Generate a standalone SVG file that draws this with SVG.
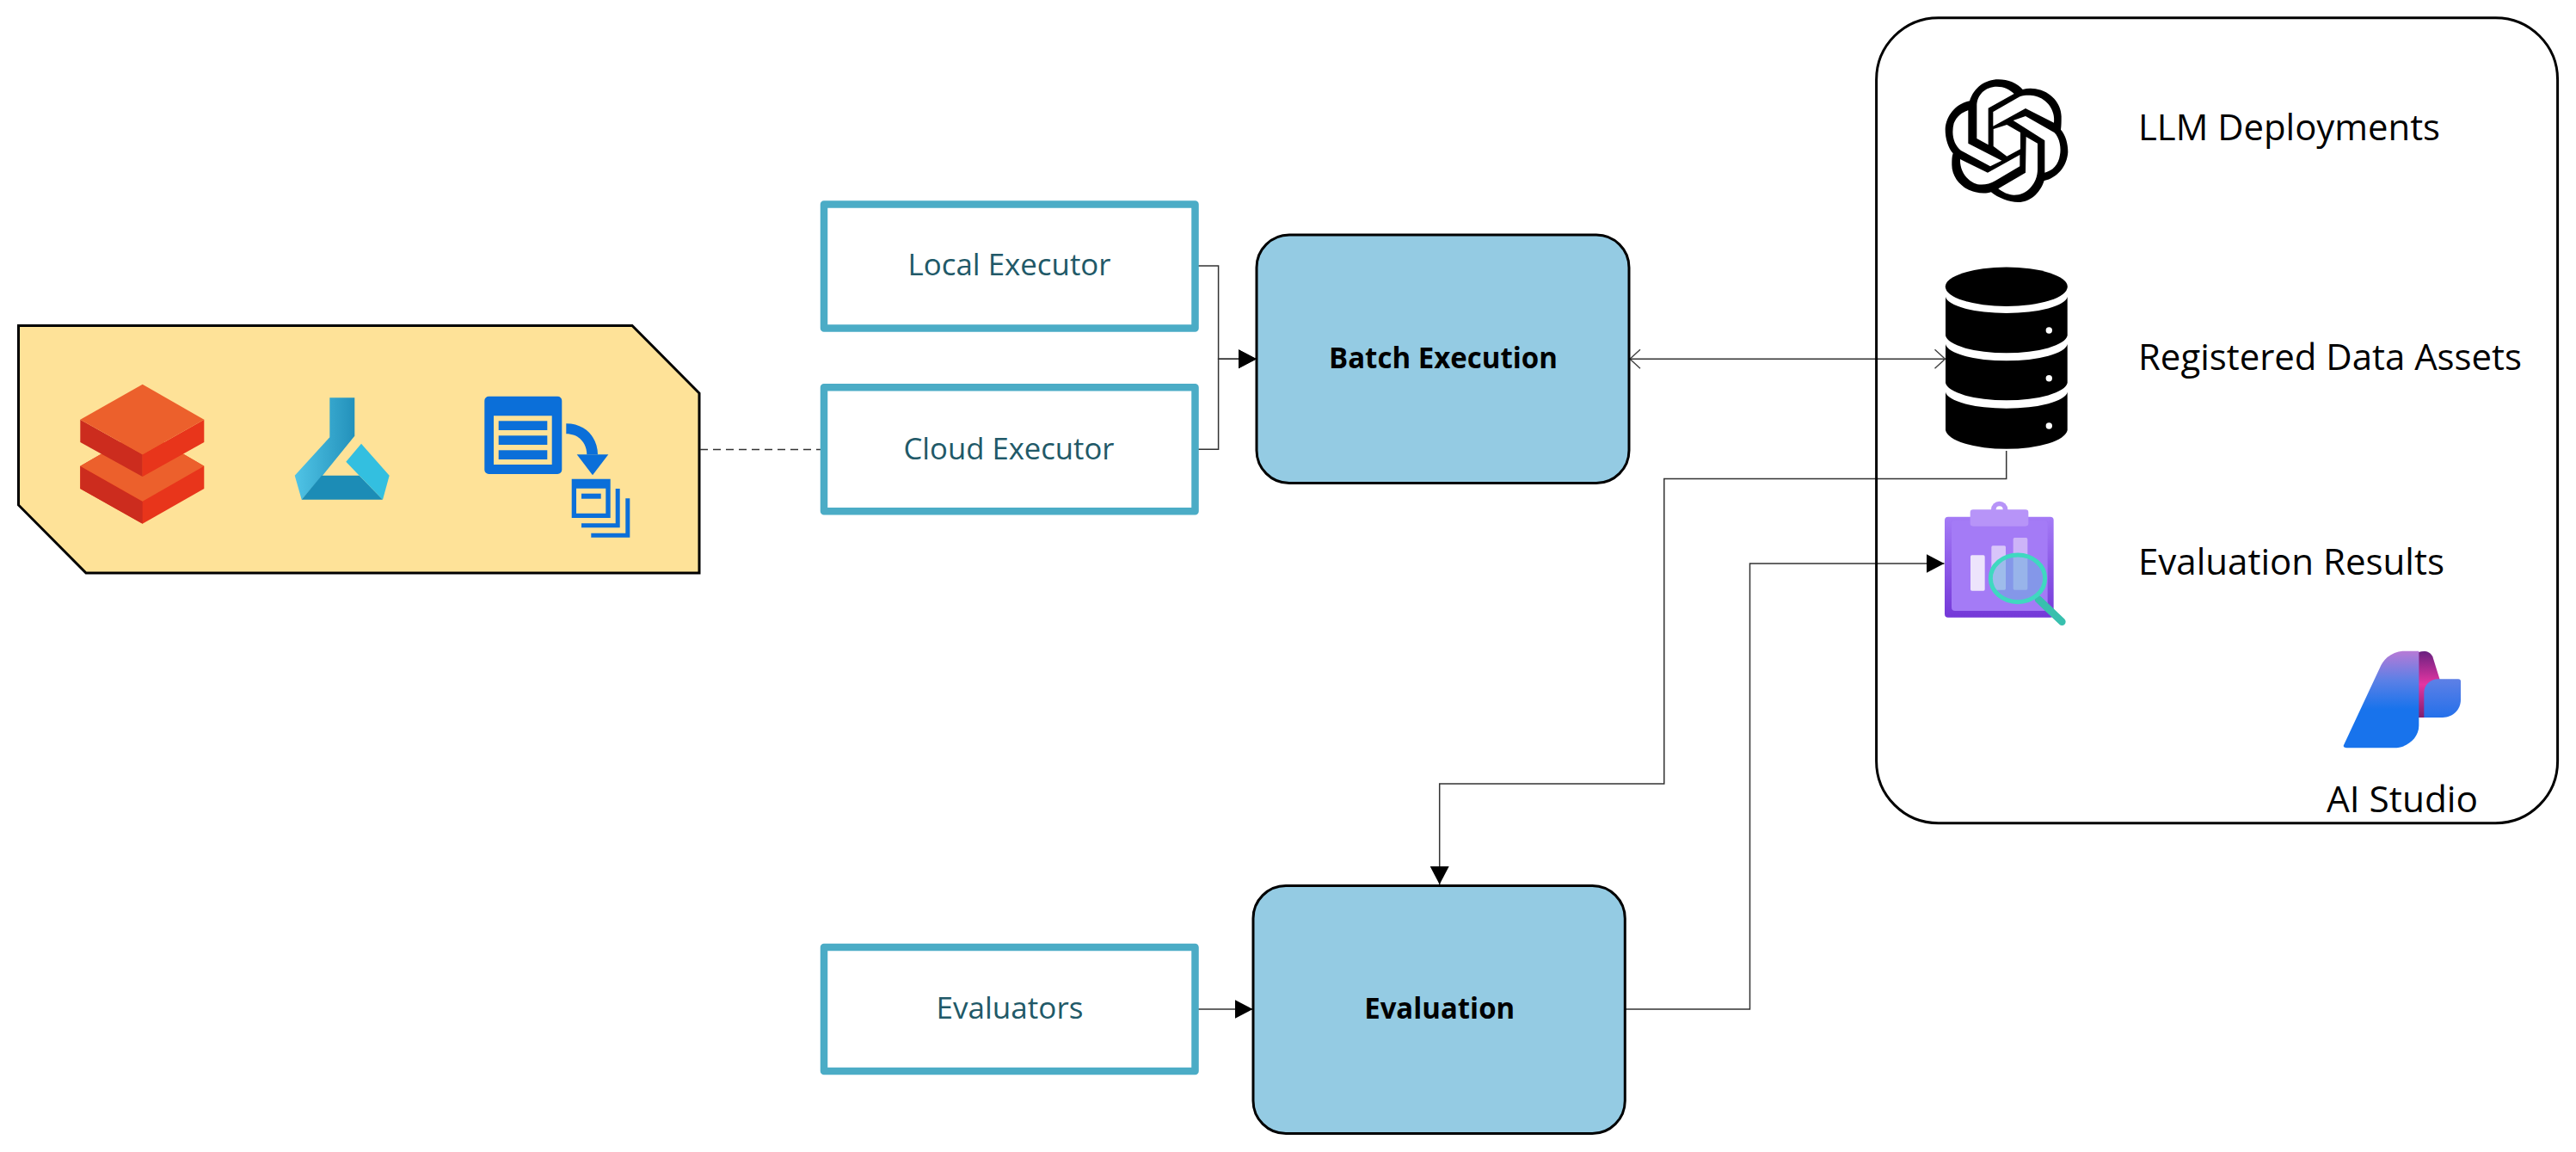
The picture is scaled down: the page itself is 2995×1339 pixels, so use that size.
<svg xmlns="http://www.w3.org/2000/svg" width="2995" height="1339" viewBox="0 0 2995 1339">
<style>
text{font-family:"Open Sans","Noto Sans","Liberation Sans",sans-serif}
.ex{fill:#fff;stroke:#4BACC6;stroke-width:8.5;stroke-linejoin:round}
.ext{font-size:34px;fill:#215968;text-anchor:middle}
.pr{fill:#94CBE3;stroke:#000;stroke-width:3}
.prt{font-size:34px;font-weight:700;fill:#000;text-anchor:middle}
.lbl{font-size:42px;fill:#000}
.c{fill:none;stroke:#333;stroke-width:1.5}
.blue{fill:#0B6FD9}
</style>
<defs>
<marker id="solid" markerUnits="userSpaceOnUse" markerWidth="22" markerHeight="24" refX="21" refY="11" orient="auto" viewBox="0 0 22 24"><path d="M0 0L21 11L0 22Z" fill="#000"/></marker>
<marker id="open" markerUnits="userSpaceOnUse" markerWidth="14" markerHeight="26" refX="13" refY="12" orient="auto-start-reverse" viewBox="0 0 14 26"><path d="M1 1L13 12L1 23" fill="none" stroke="#404040" stroke-width="1.4"/></marker>
<linearGradient id="flask" x1="0" y1="0" x2="1" y2="0"><stop offset="0" stop-color="#50C4E6"/><stop offset="1" stop-color="#2391BB"/></linearGradient>
<linearGradient id="board" x1="0" y1="0" x2="0" y2="1"><stop offset="0" stop-color="#A47BF6"/><stop offset="1" stop-color="#7438D8"/></linearGradient>
<linearGradient id="aiMain" x1="0" y1="0" x2="0" y2="1"><stop offset="0" stop-color="#B87AD6"/><stop offset="0.3" stop-color="#5C80E6"/><stop offset="0.6" stop-color="#1873EC"/></linearGradient>
<linearGradient id="aiFold" x1="0" y1="0" x2="0" y2="1"><stop offset="0" stop-color="#6A2180"/><stop offset="0.5" stop-color="#E535A2"/><stop offset="1" stop-color="#7E1F6E"/></linearGradient>
<linearGradient id="aiLeaf" x1="0" y1="0" x2="0" y2="1"><stop offset="0" stop-color="#5E80E6"/><stop offset="1" stop-color="#2470EA"/></linearGradient>
</defs>

<g id="cluster-compute">
<polygon points="21.5,378.5 735,378.5 813,457 813,666 100,666 21.5,587" fill="#FEE298" stroke="#000" stroke-width="3"/>
<g id="icon-databricks">
<polygon points="93.3,541.7 165.7,500 237.3,541.7 237.3,568 165.7,608.7 93.3,568" fill="#E8351B"/>
<polygon points="93.3,541.7 165.7,583 165.7,608.7 93.3,568" fill="#CC2C1E"/>
<polygon points="93.3,541.7 165.7,500 237.3,541.7 165.7,582.7" fill="#EC602C"/>
<polygon points="93.3,487.7 93.3,514 165.7,554 165.7,528.3" fill="#CC2C1E"/>
<polygon points="237.3,487.7 237.3,514 165.7,554 165.7,528.3" fill="#E8351B"/>
<polygon points="93.3,487.7 165.7,446.7 237.3,487.7 165.7,528.3" fill="#EC602C"/>
</g>
<g id="icon-azureml">
<polygon points="383.3,462.3 412.3,462.3 412.3,506.7 375,552.7 350.7,580.7 342.7,552.7 383.3,508.3" fill="url(#flask)"/>
<polygon points="350.7,580.7 374,552.7 417.7,552.7 445,580.7" fill="#1C8CB6"/>
<polygon points="420,515.7 402.3,536.7 417.7,552.7 445,580.7 452.7,552.7" fill="#33BFE0"/>
</g>
<g id="icon-batch">
<path class="blue" fill-rule="evenodd" d="M568.3 460.7H648.3a5 5 0 0 1 5 5V546a5 5 0 0 1-5 5H568.3a5 5 0 0 1-5-5V465.7a5 5 0 0 1 5-5ZM574 483.3V540H641.7V483.3Z"/>
<rect class="blue" x="579.7" y="489.3" width="56.6" height="10.7"/>
<rect class="blue" x="579.7" y="506.3" width="56.6" height="10.7"/>
<rect class="blue" x="579.7" y="523.3" width="56.6" height="10.7"/>
<path class="blue" d="M670.7 528.3L689 552.3L707.3 528.3Z"/>
<path class="blue" d="M658.3 492.3C682 492.3 695 510 695 528.3H682.3C682.3 516 674 504.3 658.3 504.3Z"/>
<path class="blue" fill-rule="evenodd" d="M664.7 556.7H709.7V602H664.7ZM670 567.7V596.7H704.3V567.7Z"/>
<rect class="blue" x="676" y="573.7" width="22.7" height="6"/>
<path class="blue" d="M715.7 568H720.7V613.3H676V608.3H715.7Z"/>
<path class="blue" d="M727.3 579.3H732.3V624.7H687.3V619.7H727.3Z"/>
</g>
</g>

<g id="connectors">
<path class="c" stroke-dasharray="9 6" d="M814 522.5H954"/>
<path class="c" d="M1389 309H1416.6V417.3H1461" marker-end="url(#solid)"/>
<path class="c" d="M1389 522.3H1416.6V417.3H1461" marker-end="url(#solid)"/>
<path class="c" d="M1895 417.3H2261.5" marker-start="url(#open)" marker-end="url(#open)"/>
<path class="c" d="M2332.7 524V556.5H1934.8V911H1673.7V1028" marker-end="url(#solid)"/>
<path class="c" d="M1391 1173H1456.6" marker-end="url(#solid)"/>
<path class="c" d="M1889 1173H2034.5V655H2260.5" marker-end="url(#solid)"/>
</g>

<g id="node-local-executor">
<rect class="ex" x="958" y="237.6" width="431.5" height="144"/>
<text class="ext" x="1173.6" y="320" textLength="236" lengthAdjust="spacingAndGlyphs">Local Executor</text>
</g>
<g id="node-cloud-executor">
<rect class="ex" x="958" y="450.3" width="431.5" height="144"/>
<text class="ext" x="1173" y="534" textLength="245" lengthAdjust="spacingAndGlyphs">Cloud Executor</text>
</g>
<g id="node-evaluators">
<rect class="ex" x="958" y="1101" width="431.5" height="144"/>
<text class="ext" x="1174" y="1184" textLength="171" lengthAdjust="spacingAndGlyphs">Evaluators</text>
</g>
<g id="node-batch-execution">
<rect class="pr" x="1461" y="273" width="433" height="288.5" rx="38" ry="38"/>
<text class="prt" x="1678" y="428" textLength="266" lengthAdjust="spacingAndGlyphs">Batch Execution</text>
</g>
<g id="node-evaluation">
<rect class="pr" x="1457" y="1029.5" width="432.3" height="288" rx="38" ry="38"/>
<text class="prt" x="1673.7" y="1184" textLength="175" lengthAdjust="spacingAndGlyphs">Evaluation</text>
</g>

<g id="node-ai-studio">
<rect x="2181.6" y="20.7" width="792" height="936" rx="72" ry="72" fill="none" stroke="#000" stroke-width="3"/>
<g id="icon-llm" transform="translate(2240 80) scale(.33333)">
<path d="M150 112C165 65 205 37 250 37C285 37 315 50 335 72C350 68 365 67 380 70C435 78 472 125 470 170C470 185 470 198 468 212C485 232 493 260 493 290C490 340 455 380 410 390C395 435 360 465 320 465C285 465 250 450 225 430C210 435 190 435 170 430C125 420 88 380 88 335C88 320 88 305 92 295C75 275 65 245 65 210C68 160 105 120 150 112Z" fill="#000"/>
<g fill="#fff">
<path d="M175 243V130C175 90 205 62 245 62C270 62 290 72 305 87L215 137V265Z"/>
<path d="M232 150L325 97C345 90 365 92 380 95C420 105 450 145 444 188L345 138L232 200Z"/>
<path d="M345 165L445 222C465 240 470 280 465 300C460 335 440 355 412 362V250L302 180Z"/>
<path d="M347 237L387 260V350C387 400 350 440 305 440C285 440 265 430 250 418L345 362Z"/>
<path d="M117 315L213 362L325 300V340L240 390C215 405 185 408 165 398C135 385 115 350 117 315Z"/>
<path d="M145 145V260L262 320L222 340L120 285C95 265 85 230 95 190C105 165 125 150 145 145Z"/>
<path d="M233 210L280 195L327 222V280L280 305L233 270Z"/>
</g>
</g>
<text class="lbl" x="2486" y="162.5" textLength="351" lengthAdjust="spacingAndGlyphs">LLM Deployments</text>
<g id="icon-database" fill="#000">
<ellipse cx="2332.8" cy="333.3" rx="71" ry="22.7"/>
<path d="M2262 345A71 20.3 0 0 0 2403.7 345V390A71 21.7 0 0 1 2262 390Z"/>
<path d="M2262 400A71 20.7 0 0 0 2403.7 400V445A71 21.7 0 0 1 2262 445Z"/>
<path d="M2262 455.7A71 20.3 0 0 0 2403.7 455.7V500A71 23.3 0 0 1 2262 500Z"/>
<circle cx="2382.3" cy="384" r="3.7" fill="#fff"/>
<circle cx="2382.3" cy="439.7" r="3.7" fill="#fff"/>
<circle cx="2382.3" cy="495" r="3.7" fill="#fff"/>
</g>
<text class="lbl" x="2486" y="429.6" textLength="446" lengthAdjust="spacingAndGlyphs">Registered Data Assets</text>
<g id="icon-evaluation" transform="translate(2240 575) scale(.33333)">
<rect x="63" y="77" width="380" height="351" rx="12" fill="url(#board)"/>
<rect x="87" y="90" width="335" height="315" rx="12" fill="#A47BF6"/>
<circle cx="254" cy="52" r="29" fill="#B794F8"/>
<circle cx="254" cy="52" r="12" fill="#fff"/>
<rect x="152" y="52" width="203" height="58" rx="10" fill="#B794F8"/>
<rect x="153" y="211" width="50" height="124" rx="5" fill="#EDE4FC"/>
<rect x="226" y="178" width="50" height="154" rx="5" fill="#D9C5FA"/>
<rect x="302" y="150" width="50" height="182" rx="5" fill="#CDB4F8"/>
<path d="M390 365L472 443" stroke="#38C0AE" stroke-width="26" stroke-linecap="round" fill="none"/>
<ellipse cx="318" cy="292" rx="95" ry="82" fill="#64B4DC" fill-opacity=".5" stroke="#3FD8C0" stroke-width="15"/>
</g>
<text class="lbl" x="2486" y="668" textLength="356" lengthAdjust="spacingAndGlyphs">Evaluation Results</text>
<g id="icon-ai-studio" transform="translate(2700 740) scale(.33333)">
<path d="M335 55C355 48 375 50 385 70L410 150L420 282H335Z" fill="url(#aiFold)"/>
<path d="M75 378L205 100C220 70 250 52 280 50H337V310C337 355 295 388 250 388H85C77 388 72 384 75 378Z" fill="url(#aiMain)"/>
<path d="M355 195C355 170 375 148 405 148H475C480 148 483 151 483 156V220C483 255 455 282 420 282H355Z" fill="url(#aiLeaf)"/>
</g>
<text class="lbl" x="2705" y="944" textLength="176" lengthAdjust="spacingAndGlyphs">AI Studio</text>
</g>
</svg>
